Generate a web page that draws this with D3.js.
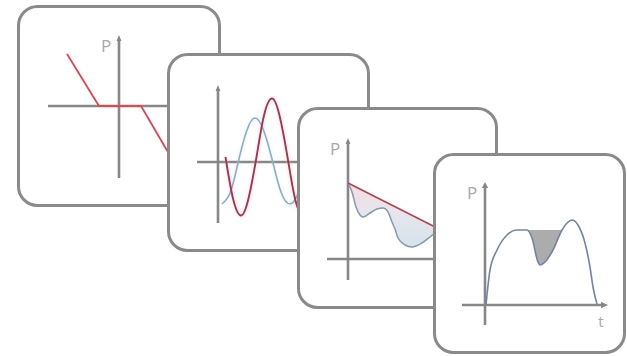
<!DOCTYPE html>
<html>
<head>
<meta charset="utf-8">
<script src="https://cdn.jsdelivr.net/npm/d3@7"></script>
<style>
  html, body { margin: 0; padding: 0; background: #fff; }
  svg { display: block; }
</style>
</head>
<body>
<svg id="chart" width="627" height="356"></svg>
<script>
// ---- data (axis units, origin = axis crossing, y up) ----
// card 1: droop characteristic with dead band
const droopX = [-5.2, -2.0, 2.2, 6.0];
const droopP = [5.2, 0, 0, -6.5];

// card 2: two oscillations
const blueWaveX = [0.4, 1.25, 2.05, 2.9, 3.7, 4.55, 5.45, 6.3, 7.2, 8.05, 8.9, 9.75, 10.6];
const blueWaveP = [-4.2, -3.0, 0.1, 3.2, 4.4, 3.2, 0.1, -3.0, -4.2, -3.0, 0.1, 3.2, 4.4];
const redWaveX  = [0.75, 1.5, 2.3, 3.05, 3.85, 4.6, 5.4, 6.15, 6.95, 7.7, 8.5, 9.25, 10.05];
const redWaveP  = [0.5, -3.65, -5.35, -3.65, 0.5, 4.65, 6.35, 4.65, 0.5, -3.65, -5.35, -3.65, 0.5];

// card 3: limit line and actual output below it
const limitX = [0, 10];
const limitP = [7.6, 2.55];
const outputX = [0, 0.4, 0.8, 1.2, 1.5, 2.2, 2.9, 3.5, 4.0, 4.4, 4.7, 5.0, 5.7, 6.4, 7.4, 8.2, 8.8, 10];
const outputP = [7.6, 6.7, 5.2, 4.4, 4.2, 4.6, 5.0, 5.1, 4.7, 3.7, 3.0, 2.1, 1.4, 1.2, 1.6, 2.2, 2.7, 3.2];

// card 4: power over time with a dip
const profileT = [0.1, 0.5, 1.2, 2.2, 3.2, 4.2, 4.7, 5.3, 5.5, 6.0, 6.8, 7.7, 8.2, 8.7, 9.3, 10.0, 10.5, 10.8, 11.2];
const profileP = [0, 3.5, 5.5, 7.0, 7.5, 7.5, 6.7, 4.3, 4.0, 4.3, 5.5, 7.5, 8.2, 8.5, 8.0, 6.2, 3.8, 1.8, 0.1];
const dipLevel = 7.5;
const dipRange = [4.2, 7.7];

const axisLabelP = "P";
const axisLabelT = "t";

// ---- layout ----
const unit = 10;
const cards = [
  { x: 18.5, y: 6.5,   w: 201, h: 199, ox: 119, oy: 106, xd: [-7.1, 7],  yd: [-7.2, 7.1],  pLabel: true,  tArrow: false },
  { x: 168.5, y: 54.5, w: 200, h: 196, ox: 218, oy: 162, xd: [-2.1, 10], yd: [-6.1, 7.7],  pLabel: false, tArrow: false },
  { x: 298.5, y: 108.5, w: 198, h: 199, ox: 348, oy: 259, xd: [-2.1, 10], yd: [-2.1, 12.1], pLabel: true,  tArrow: false },
  { x: 434.5, y: 154.5, w: 190, h: 198, ox: 485, oy: 305, xd: [-2.3, 12.3], yd: [-2.0, 12.3], pLabel: true, tArrow: true }
];

const axisColor = "#878787";
const borderColor = "#8a8a8a";
const labelFont = "'Open Sans', 'DejaVu Sans', sans-serif";

const svg = d3.select("#chart");
const defs = svg.append("defs");

const grad = defs.append("linearGradient")
  .attr("id", "limitFill")
  .attr("x1", 0).attr("y1", 0).attr("x2", 0).attr("y2", 1);
grad.append("stop").attr("offset", "0%").attr("stop-color", "#f7dde1");
grad.append("stop").attr("offset", "45%").attr("stop-color", "#e6e6ec");
grad.append("stop").attr("offset", "100%").attr("stop-color", "#d6e2eb");

const soft = defs.append("filter").attr("id", "soft")
  .attr("x", "-10%").attr("y", "-10%").attr("width", "120%").attr("height", "120%");
soft.append("feGaussianBlur").attr("stdDeviation", 1.6);

function scalesFor(c) {
  const x = d3.scaleLinear().domain(c.xd).range([c.ox + c.xd[0] * unit, c.ox + c.xd[1] * unit]);
  const y = d3.scaleLinear().domain(c.yd).range([c.oy - c.yd[0] * unit, c.oy - c.yd[1] * unit]);
  return { x, y };
}

function drawAxes(g, c, s) {
  // horizontal
  g.append("line")
    .attr("x1", s.x(c.xd[0])).attr("x2", s.x(c.xd[1]) - (c.tArrow ? 4 : 0))
    .attr("y1", s.y(0)).attr("y2", s.y(0))
    .attr("stroke", axisColor).attr("stroke-width", 2.6);
  // vertical
  g.append("line")
    .attr("x1", s.x(0)).attr("x2", s.x(0))
    .attr("y1", s.y(c.yd[0])).attr("y2", s.y(c.yd[1]) + 4)
    .attr("stroke", axisColor).attr("stroke-width", 2.6);
  // arrow heads
  const ax = s.x(0), ay = s.y(c.yd[1]);
  const aw = c.tArrow ? 3.2 : 2.4;
  g.append("path")
    .attr("d", `M${ax},${ay} L${ax - aw},${ay + 6} L${ax + aw},${ay + 6} Z`)
    .attr("fill", axisColor);
  if (c.tArrow) {
    const tx = s.x(c.xd[1]), ty = s.y(0);
    g.append("path")
      .attr("d", `M${tx},${ty} L${tx - 7},${ty - 3.2} L${tx - 7},${ty + 3.2} Z`)
      .attr("fill", axisColor);
  }
  if (c.pLabel) {
    g.append("text")
      .attr("x", ax - 13).attr("y", ay + 17)
      .attr("text-anchor", "middle")
      .attr("font-family", labelFont)
      .attr("font-size", "17px")
      .attr("fill", "#a8a8a8")
      .text(axisLabelP);
  }
  if (c.tArrow) {
    g.append("text")
      .attr("x", s.x(c.xd[1]) - 7).attr("y", s.y(0) + 22)
      .attr("text-anchor", "middle")
      .attr("font-family", labelFont)
      .attr("font-size", "15px")
      .attr("fill", "#a8a8a8")
      .text(axisLabelT);
  }
}

const painters = [
  // card 1
  (g, s) => {
    g.append("path")
      .datum(d3.zip(droopX, droopP))
      .attr("d", d3.line().x(d => s.x(d[0])).y(d => s.y(d[1])))
      .attr("fill", "none")
      .attr("stroke", "#e8434f")
      .attr("stroke-width", 1.8);
  },
  // card 2
  (g, s) => {
    const line = d3.line().x(d => s.x(d[0])).y(d => s.y(d[1])).curve(d3.curveNatural);
    const blue = d3.zip(blueWaveX, blueWaveP);
    const red = d3.zip(redWaveX, redWaveP);
    g.append("path").datum(red).attr("d", line)
      .attr("fill", "none").attr("stroke", "#f7c6d0").attr("stroke-width", 5)
      .attr("opacity", 0.22).attr("filter", "url(#soft)");
    g.append("path").datum(blue).attr("d", line)
      .attr("fill", "none").attr("stroke", "#c8dfeb").attr("stroke-width", 4)
      .attr("opacity", 0.22).attr("filter", "url(#soft)");
    g.append("path").datum(blue).attr("d", line)
      .attr("fill", "none").attr("stroke", "#8aaec2").attr("stroke-width", 1.6);
    g.append("path").datum(red).attr("d", line)
      .attr("fill", "none").attr("stroke", "#a8344f").attr("stroke-width", 1.9);
  },
  // card 3
  (g, s) => {
    const limitAt = d3.scaleLinear().domain(limitX).range(limitP);
    const out = d3.zip(outputX, outputP);
    g.append("path")
      .datum(out)
      .attr("d", d3.area()
        .x(d => s.x(d[0]))
        .y0(d => s.y(limitAt(d[0])))
        .y1(d => s.y(d[1]))
        .curve(d3.curveMonotoneX))
      .attr("fill", "url(#limitFill)");
    g.append("path")
      .datum(out)
      .attr("d", d3.line().x(d => s.x(d[0])).y(d => s.y(d[1])).curve(d3.curveMonotoneX))
      .attr("fill", "none").attr("stroke", "#8598b0").attr("stroke-width", 1.5);
    g.append("path")
      .datum(d3.zip(limitX, limitP))
      .attr("d", d3.line().x(d => s.x(d[0])).y(d => s.y(d[1])))
      .attr("fill", "none").attr("stroke", "#b8404f").attr("stroke-width", 1.6);
  },
  // card 4
  (g, s) => {
    const prof = d3.zip(profileT, profileP);
    const dip = prof.filter(d => d[0] >= dipRange[0] && d[0] <= dipRange[1]);
    g.append("path")
      .datum(dip)
      .attr("d", d3.area()
        .x(d => s.x(d[0]))
        .y0(s.y(dipLevel))
        .y1(d => s.y(d[1]))
        .curve(d3.curveMonotoneX))
      .attr("fill", "#acacac");
    g.append("path")
      .datum(prof)
      .attr("d", d3.line().x(d => s.x(d[0])).y(d => s.y(d[1])).curve(d3.curveMonotoneX))
      .attr("fill", "none").attr("stroke", "#7284a6").attr("stroke-width", 1.6);
  }
];

cards.forEach((c, i) => {
  const g = svg.append("g").attr("class", "card");
  g.append("rect")
    .attr("x", c.x).attr("y", c.y).attr("width", c.w).attr("height", c.h)
    .attr("rx", 19).attr("ry", 19)
    .attr("fill", "#fff");

  const clipId = "clip" + i;
  defs.append("clipPath").attr("id", clipId)
    .append("rect")
    .attr("x", c.x).attr("y", c.y).attr("width", c.w).attr("height", c.h)
    .attr("rx", 19).attr("ry", 19);

  const inner = g.append("g").attr("clip-path", `url(#${clipId})`);
  const s = scalesFor(c);
  drawAxes(inner, c, s);
  painters[i](inner, s);

  g.append("rect")
    .attr("x", c.x).attr("y", c.y).attr("width", c.w).attr("height", c.h)
    .attr("rx", 19).attr("ry", 19)
    .attr("fill", "none")
    .attr("stroke", borderColor)
    .attr("stroke-width", 3);
});
</script>
</body>
</html>
